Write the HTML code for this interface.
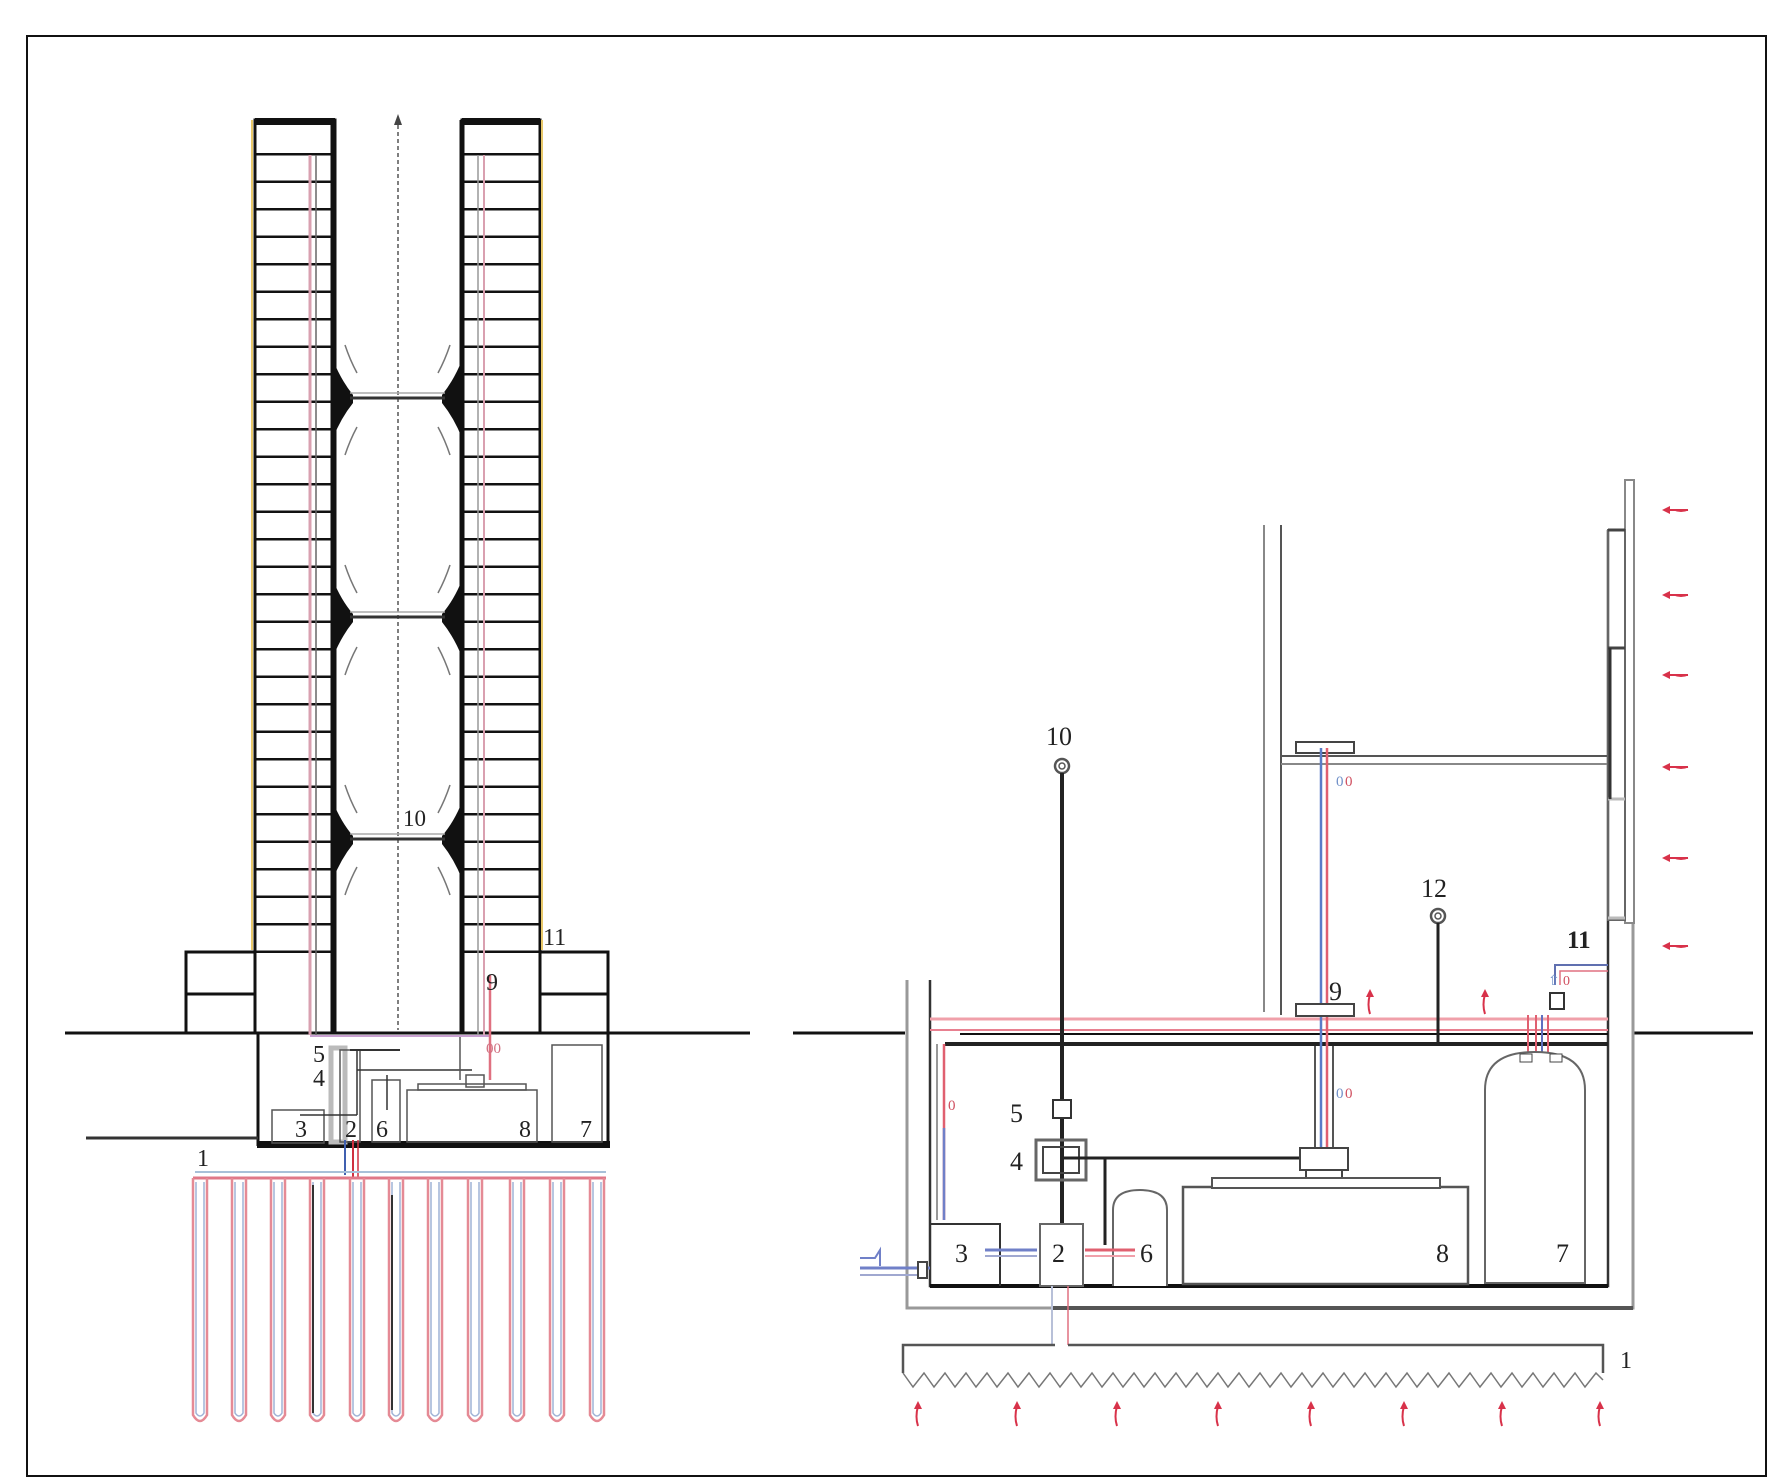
<!DOCTYPE html>
<html><head><meta charset="utf-8"><style>
html,body{margin:0;padding:0;background:#fff}
svg{display:block}
text{font-family:"Liberation Serif",serif;fill:#222}
</style></head><body>
<svg width="1769" height="1479" viewBox="0 0 1769 1479" xmlns="http://www.w3.org/2000/svg">
<defs>
<pattern id="fl" x="0" y="153" width="10" height="27.5" patternUnits="userSpaceOnUse">
<rect x="0" y="0" width="10" height="2.5" fill="#111"/>
</pattern>
<g id="loop" fill="none">
<path d="M0 1178 V1415 q7 12 14 0 V1178" stroke="#e58a95" stroke-width="2.5"/>
<path d="M3 1182 V1413 q4 6 8 0 V1182" stroke="#9fb3d6" stroke-width="1.5"/>
</g>
<g id="ra"><path d="M0 22 q-3 -9 0 -20" stroke="#d8324a" stroke-width="2" fill="none"/><path d="M-4 5 L0 -3 L4 5 z" fill="#d8324a"/></g>
<g id="la"><path d="M0 0 H-24" stroke="#d8324a" stroke-width="2"/><path d="M-26 0 l8 -4 v8 z" fill="#d8324a"/><path d="M-14 0 q7 3 14 0" stroke="#d8324a" stroke-width="1" fill="none"/></g>
</defs>
<rect x="27" y="36" width="1739" height="1440" fill="none" stroke="#111" stroke-width="2"/>

<!-- LEFT TOWER -->
<line x1="65" y1="1033" x2="750" y2="1033" stroke="#111" stroke-width="3"/>
<rect x="255" y="153" width="78" height="800" fill="url(#fl)"/>
<rect x="463" y="153" width="76" height="800" fill="url(#fl)"/>
<rect x="255" y="120" width="80" height="913" fill="none" stroke="#111" stroke-width="3"/>
<rect x="255" y="118" width="80" height="7" fill="#111"/>
<rect x="462" y="120" width="78" height="913" fill="none" stroke="#111" stroke-width="3"/>
<rect x="462" y="118" width="78" height="7" fill="#111"/>
<line x1="333" y1="120" x2="333" y2="1033" stroke="#111" stroke-width="5"/>
<line x1="462" y1="120" x2="462" y2="1033" stroke="#111" stroke-width="5"/>
<line x1="252" y1="120" x2="252" y2="950" stroke="#e8c86a" stroke-width="2"/>
<line x1="542" y1="120" x2="542" y2="950" stroke="#e8c86a" stroke-width="2"/>
<line x1="310" y1="155" x2="310" y2="1035" stroke="#d9a0b0" stroke-width="3"/>
<line x1="316" y1="155" x2="316" y2="1035" stroke="#666" stroke-width="1.5"/>
<line x1="478" y1="155" x2="478" y2="1035" stroke="#999" stroke-width="1.5"/>
<line x1="484" y1="155" x2="484" y2="1035" stroke="#d9a0b0" stroke-width="2"/>
<line x1="398" y1="125" x2="398" y2="1030" stroke="#555" stroke-width="1.5" stroke-dasharray="4 3"/>
<path d="M394 125 L398 114 L402 125 z" fill="#444"/>
<g fill="#111">
<path d="M333 360 q8 20 20 35 v8 q-12 15 -20 35 z"/><path d="M462 360 q-8 20 -20 35 v8 q12 15 20 35 z"/>
<path d="M333 580 q8 20 20 34 v8 q-12 15 -20 35 z"/><path d="M462 580 q-8 20 -20 34 v8 q12 15 20 35 z"/>
<path d="M333 802 q8 20 20 34 v8 q-12 15 -20 35 z"/><path d="M462 802 q-8 20 -20 34 v8 q12 15 20 35 z"/>
</g>
<g stroke="#333" stroke-width="3"><line x1="350" y1="398" x2="445" y2="398"/><line x1="350" y1="617" x2="445" y2="617"/><line x1="350" y1="839" x2="445" y2="839"/></g>
<g stroke="#aaa" stroke-width="1.5"><line x1="350" y1="393" x2="445" y2="393"/><line x1="350" y1="612" x2="445" y2="612"/><line x1="350" y1="834" x2="445" y2="834"/></g>
<g stroke="#777" stroke-width="1.5" fill="none">
<path d="M345 345 q5 15 12 28"/><path d="M450 345 q-5 15 -12 28"/><path d="M345 455 q5 -15 12 -28"/><path d="M450 455 q-5 -15 -12 -28"/>
<path d="M345 565 q5 15 12 28"/><path d="M450 565 q-5 15 -12 28"/><path d="M345 675 q5 -15 12 -28"/><path d="M450 675 q-5 -15 -12 -28"/>
<path d="M345 785 q5 15 12 28"/><path d="M450 785 q-5 15 -12 28"/><path d="M345 895 q5 -15 12 -28"/><path d="M450 895 q-5 -15 -12 -28"/>
</g>
<text x="403" y="826" font-size="23">10</text>
<g fill="none" stroke="#111" stroke-width="3">
<polyline points="255,952 186,952 186,1033"/><line x1="186" y1="994" x2="255" y2="994"/>
<polyline points="540,952 608,952 608,1146"/><line x1="540" y1="994" x2="608" y2="994"/>
<line x1="258" y1="1033" x2="258" y2="1146"/>
</g>
<rect x="257" y="1141" width="353" height="7" fill="#111"/>
<text x="543" y="945" font-size="24">11</text>
<g fill="none" stroke="#555" stroke-width="1.5">
<rect x="272" y="1110" width="52" height="33"/>
<rect x="331" y="1048" width="14" height="94" stroke="#bbb" stroke-width="5"/>
<rect x="340" y="1050" width="20" height="92"/>
<rect x="372" y="1080" width="28" height="62"/>
<rect x="407" y="1090" width="130" height="52"/>
<rect x="418" y="1084" width="108" height="6"/>
<rect x="552" y="1045" width="50" height="97"/>
<line x1="350" y1="1050" x2="400" y2="1050" stroke="#333" stroke-width="2"/>
<line x1="357" y1="1070" x2="472" y2="1070" stroke="#333" stroke-width="1.5"/>
<line x1="387" y1="1075" x2="387" y2="1110" stroke="#333"/>
<line x1="357" y1="1050" x2="357" y2="1115" stroke="#333" stroke-width="1.5"/>
<line x1="300" y1="1115" x2="357" y2="1115" stroke="#333"/>
<rect x="466" y="1075" width="18" height="12"/>
<line x1="460" y1="1036" x2="460" y2="1080"/>
</g>
<line x1="86" y1="1138" x2="258" y2="1138" stroke="#333" stroke-width="3"/>
<line x1="310" y1="1036" x2="490" y2="1036" stroke="#c8a0d0" stroke-width="2"/>
<line x1="490" y1="975" x2="490" y2="1080" stroke="#e07080" stroke-width="2.5"/>
<line x1="345" y1="1140" x2="345" y2="1175" stroke="#4060b0" stroke-width="2"/>
<line x1="353" y1="1140" x2="353" y2="1178" stroke="#d03040" stroke-width="2"/>
<line x1="358" y1="1140" x2="358" y2="1178" stroke="#d03040" stroke-width="1.5"/>
<g font-size="24">
<text x="295" y="1137">3</text><text x="345" y="1137">2</text><text x="376" y="1137">6</text>
<text x="519" y="1137">8</text><text x="580" y="1137">7</text>
<text x="313" y="1062">5</text><text x="313" y="1086">4</text>
<text x="486" y="990">9</text><text x="197" y="1166">1</text>
</g>
<text x="486" y="1053" font-size="15" style="fill:#d07080">00</text>
<line x1="195" y1="1172" x2="606" y2="1172" stroke="#a8c0d8" stroke-width="2"/>
<line x1="193" y1="1178" x2="606" y2="1178" stroke="#e07888" stroke-width="3"/>
<use href="#loop" x="193"/><use href="#loop" x="232"/><use href="#loop" x="271"/><use href="#loop" x="310"/>
<use href="#loop" x="350"/><use href="#loop" x="389"/><use href="#loop" x="428"/><use href="#loop" x="468"/>
<use href="#loop" x="510"/><use href="#loop" x="550"/><use href="#loop" x="590"/>
<line x1="313" y1="1185" x2="313" y2="1413" stroke="#333" stroke-width="2"/>
<line x1="392" y1="1195" x2="392" y2="1410" stroke="#333" stroke-width="2"/>

<!-- RIGHT DIAGRAM -->
<line x1="793" y1="1033" x2="905" y2="1033" stroke="#111" stroke-width="3"/>
<line x1="1633" y1="1033" x2="1753" y2="1033" stroke="#111" stroke-width="3"/>
<g fill="none">
<polyline points="907,980 907,1308 1633,1308 1633,923" stroke="#999" stroke-width="3"/>
<line x1="1052" y1="1308" x2="1633" y2="1308" stroke="#555" stroke-width="4"/>
<polyline points="930,980 930,1286 1608,1286 1608,530" stroke="#333" stroke-width="2.5"/>
<line x1="930" y1="1286" x2="1608" y2="1286" stroke="#111" stroke-width="4"/>
</g>
<g stroke="#888" stroke-width="2" fill="none">
<line x1="1264" y1="525" x2="1264" y2="1012"/>
<line x1="1281" y1="525" x2="1281" y2="1015" stroke="#555"/>
<line x1="1281" y1="756" x2="1608" y2="756" stroke="#555"/>
<line x1="1281" y1="764" x2="1608" y2="764"/>
<rect x="1625" y="480" width="9" height="443"/>
<rect x="1608" y="530" width="17" height="390" stroke="#666"/>
<line x1="1608" y1="530" x2="1625" y2="530" stroke="#444" stroke-width="3"/>
<line x1="1608" y1="648" x2="1625" y2="648" stroke="#444" stroke-width="3"/>
<line x1="1608" y1="799" x2="1625" y2="799" stroke="#bbb" stroke-width="3"/>
<line x1="1608" y1="918" x2="1625" y2="918" stroke="#bbb" stroke-width="3"/>
<line x1="1610" y1="648" x2="1610" y2="799" stroke="#333" stroke-width="3"/>
</g>
<use href="#la" x="1688" y="510"/><use href="#la" x="1688" y="595"/><use href="#la" x="1688" y="675"/>
<use href="#la" x="1688" y="767"/><use href="#la" x="1688" y="858"/><use href="#la" x="1688" y="946"/>
<line x1="930" y1="1019" x2="1608" y2="1019" stroke="#f0a0aa" stroke-width="3"/>
<line x1="930" y1="1030" x2="1608" y2="1030" stroke="#e88090" stroke-width="2"/>
<line x1="960" y1="1034" x2="1608" y2="1034" stroke="#111" stroke-width="2"/>
<line x1="945" y1="1044" x2="1608" y2="1044" stroke="#222" stroke-width="4"/>
<rect x="1296" y="742" width="58" height="11" fill="#fff" stroke="#444" stroke-width="2"/>
<line x1="1321" y1="748" x2="1321" y2="1180" stroke="#5a7cc8" stroke-width="2.5"/>
<line x1="1327" y1="748" x2="1327" y2="1180" stroke="#e06070" stroke-width="2.5"/>
<line x1="1315" y1="1046" x2="1315" y2="1175" stroke="#555" stroke-width="2"/>
<line x1="1333" y1="1046" x2="1333" y2="1175" stroke="#555" stroke-width="2"/>
<rect x="1296" y="1004" width="58" height="12" fill="#fff" stroke="#444" stroke-width="2"/>
<text x="1336" y="786" font-size="15" style="fill:#7090c8">0</text><text x="1345" y="786" font-size="15" style="fill:#d05060">0</text>
<text x="1336" y="1098" font-size="15" style="fill:#7090c8">0</text><text x="1345" y="1098" font-size="15" style="fill:#d05060">0</text>
<text x="1329" y="1000" font-size="26">9</text>
<use href="#ra" x="1370" y="992"/><use href="#ra" x="1485" y="992"/>
<text x="1046" y="745" font-size="26">10</text>
<circle cx="1062" cy="766" r="7" fill="none" stroke="#555" stroke-width="2.5"/><circle cx="1062" cy="766" r="3" fill="none" stroke="#555" stroke-width="1.5"/>
<line x1="1062" y1="773" x2="1062" y2="1225" stroke="#222" stroke-width="4"/>
<rect x="1053" y="1100" width="18" height="18" fill="#fff" stroke="#333" stroke-width="2"/>
<rect x="1036" y="1140" width="50" height="40" fill="none" stroke="#666" stroke-width="3"/>
<rect x="1043" y="1147" width="36" height="26" fill="none" stroke="#444" stroke-width="2"/>
<text x="1010" y="1122" font-size="26">5</text><text x="1010" y="1170" font-size="26">4</text>
<line x1="1062" y1="1158" x2="1308" y2="1158" stroke="#222" stroke-width="3"/>
<line x1="1105" y1="1158" x2="1105" y2="1245" stroke="#222" stroke-width="3"/>
<rect x="1300" y="1148" width="48" height="22" fill="#fff" stroke="#444" stroke-width="2"/>
<rect x="1306" y="1170" width="36" height="12" fill="#fff" stroke="#444" stroke-width="2"/>
<text x="1421" y="897" font-size="26">12</text>
<circle cx="1438" cy="916" r="7" fill="none" stroke="#555" stroke-width="2.5"/><circle cx="1438" cy="916" r="3" fill="none" stroke="#555" stroke-width="1.5"/>
<line x1="1438" y1="923" x2="1438" y2="1046" stroke="#222" stroke-width="3"/>
<text x="1567" y="948" font-size="25" font-weight="bold">11</text>
<polyline points="1555,985 1555,965 1608,965" fill="none" stroke="#6070b0" stroke-width="2"/>
<polyline points="1560,985 1560,971 1608,971" fill="none" stroke="#e07080" stroke-width="1.5"/>
<rect x="1550" y="993" width="14" height="16" fill="#fff" stroke="#333" stroke-width="2"/>
<line x1="1548" y1="1015" x2="1548" y2="1070" stroke="#e06070" stroke-width="2"/>
<line x1="1536" y1="1015" x2="1536" y2="1060" stroke="#e06070" stroke-width="2"/>
<line x1="1528" y1="1015" x2="1528" y2="1060" stroke="#e06070" stroke-width="2"/>
<line x1="1542" y1="1015" x2="1542" y2="1062" stroke="#6070c0" stroke-width="2"/>
<text x="1548" y="985" font-size="14" style="fill:#7090c8">⇧</text><text x="1563" y="985" font-size="14" style="fill:#d05060">0</text>
<path d="M1485 1283 V1090 q0 -38 50 -38 q50 0 50 38 V1283 z" fill="#fff" stroke="#666" stroke-width="2"/>
<rect x="1520" y="1054" width="12" height="8" fill="#fff" stroke="#444"/><rect x="1550" y="1054" width="12" height="8" fill="#fff" stroke="#444"/>
<text x="1556" y="1262" font-size="26">7</text>
<rect x="1183" y="1187" width="285" height="97" fill="#fff" stroke="#555" stroke-width="2.5"/>
<rect x="1212" y="1178" width="228" height="10" fill="#fff" stroke="#555" stroke-width="2"/>
<text x="1436" y="1262" font-size="26">8</text>
<path d="M1113 1286 V1210 q0 -20 27 -20 q27 0 27 20 V1286" fill="#fff" stroke="#666" stroke-width="2"/>
<text x="1140" y="1262" font-size="26">6</text>
<rect x="1040" y="1224" width="43" height="62" fill="#fff" stroke="#666" stroke-width="2"/>
<polyline points="930,1224 1000,1224 1000,1286" fill="none" stroke="#333" stroke-width="2"/>
<line x1="944" y1="1044" x2="944" y2="1220" stroke="#e06070" stroke-width="2.5"/>
<line x1="944" y1="1128" x2="944" y2="1220" stroke="#7080c8" stroke-width="2.5"/>
<line x1="937" y1="1044" x2="937" y2="1220" stroke="#777" stroke-width="1.5"/>
<text x="948" y="1110" font-size="15" style="fill:#d05060">0</text>
<line x1="985" y1="1250" x2="1037" y2="1250" stroke="#7080c8" stroke-width="3"/>
<line x1="985" y1="1256" x2="1037" y2="1256" stroke="#a0a8d0" stroke-width="2"/>
<line x1="1085" y1="1250" x2="1135" y2="1250" stroke="#e06070" stroke-width="3"/>
<line x1="1085" y1="1256" x2="1135" y2="1256" stroke="#f0a0aa" stroke-width="2"/>
<text x="955" y="1262" font-size="26">3</text><text x="1052" y="1262" font-size="26">2</text>
<line x1="860" y1="1268" x2="930" y2="1268" stroke="#7080c8" stroke-width="3"/>
<line x1="860" y1="1275" x2="925" y2="1275" stroke="#a0a8d0" stroke-width="2"/>
<rect x="918" y="1262" width="9" height="16" fill="#fff" stroke="#444" stroke-width="2"/>
<path d="M860 1258 h15 l5 -8 v16" fill="none" stroke="#7080c8" stroke-width="2"/>
<line x1="1052" y1="1286" x2="1052" y2="1345" stroke="#b8c0d8" stroke-width="2"/>
<line x1="1068" y1="1286" x2="1068" y2="1345" stroke="#e07080" stroke-width="1.5"/>
<polyline points="1055,1345 903,1345 903,1373" fill="none" stroke="#555" stroke-width="2.5"/>
<polyline points="1068,1345 1603,1345 1603,1373" fill="none" stroke="#555" stroke-width="2.5"/>
<polyline points="903,1373 913,1387 924,1373 934,1387 945,1373 955,1387 966,1373 976,1387 987,1373 997,1387 1008,1373 1018,1387 1029,1373 1039,1387 1050,1373 1060,1387 1071,1373 1081,1387 1092,1373 1102,1387 1113,1373 1123,1387 1134,1373 1144,1387 1155,1373 1165,1387 1176,1373 1186,1387 1197,1373 1207,1387 1218,1373 1228,1387 1239,1373 1249,1387 1260,1373 1270,1387 1281,1373 1291,1387 1302,1373 1312,1387 1323,1373 1333,1387 1344,1373 1354,1387 1365,1373 1375,1387 1386,1373 1396,1387 1407,1373 1417,1387 1428,1373 1438,1387 1449,1373 1459,1387 1470,1373 1480,1387 1491,1373 1501,1387 1512,1373 1522,1387 1533,1373 1543,1387 1554,1373 1564,1387 1575,1373 1585,1387 1596,1373 1603,1380" fill="none" stroke="#777" stroke-width="1.5"/>
<text x="1620" y="1368" font-size="24">1</text>
<use href="#ra" x="918" y="1404"/><use href="#ra" x="1017" y="1404"/><use href="#ra" x="1117" y="1404"/><use href="#ra" x="1218" y="1404"/>
<use href="#ra" x="1311" y="1404"/><use href="#ra" x="1404" y="1404"/><use href="#ra" x="1502" y="1404"/><use href="#ra" x="1600" y="1404"/>
</svg>
</body></html>
